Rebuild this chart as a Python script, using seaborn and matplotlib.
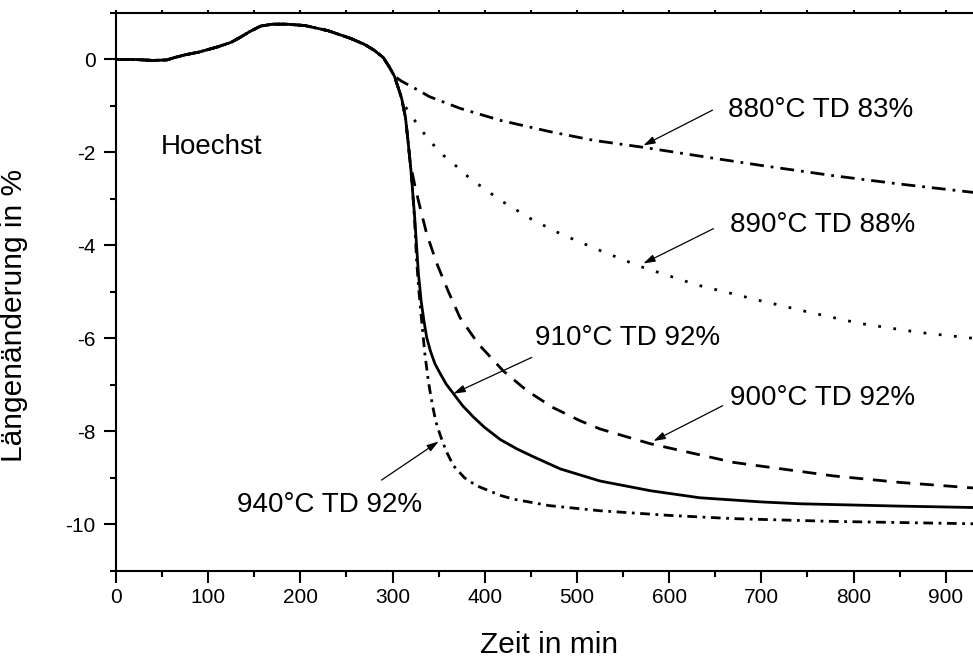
import matplotlib
matplotlib.use("Agg")
import matplotlib.pyplot as plt
from matplotlib.ticker import MultipleLocator
import pandas as pd
import seaborn as sns

# ---- data ----
common_t = [0, 20, 40, 55, 65, 75, 90, 110, 125, 135, 145, 157, 170, 185, 205, 230, 255, 270, 280, 290, 297, 302]
common_v = [0.0, 0.0, -0.02, -0.01, 0.05, 0.10, 0.16, 0.27, 0.37, 0.48, 0.60, 0.72, 0.76, 0.76, 0.73, 0.62, 0.45, 0.32, 0.20, 0.04, -0.18, -0.36]

t_880 = [310, 325, 340, 373, 417, 470, 518, 572, 650, 700, 778, 850, 930, 940]
v_880 = [-0.47, -0.63, -0.80, -1.05, -1.31, -1.55, -1.74, -1.89, -2.13, -2.28, -2.50, -2.68, -2.86, -2.88]

t_890 = [306, 310, 314, 325, 337, 352, 370, 384, 417, 451, 482, 525, 568, 630, 699, 750, 807, 870, 930, 940]
v_890 = [-0.60, -0.82, -1.02, -1.34, -1.67, -2.01, -2.31, -2.56, -3.03, -3.44, -3.75, -4.11, -4.45, -4.85, -5.19, -5.43, -5.68, -5.87, -6.00, -6.02]

t_900 = [306, 310, 314, 317, 319, 324, 330, 337, 348, 360, 373, 393, 420, 446, 474, 503, 525, 580, 670, 778, 850, 930, 940]
v_900 = [-0.60, -0.85, -1.25, -1.80, -2.20, -2.70, -3.20, -3.75, -4.39, -4.97, -5.55, -6.12, -6.70, -7.13, -7.49, -7.77, -7.95, -8.27, -8.67, -8.96, -9.10, -9.22, -9.23]

t_910 = [306, 310, 314, 317, 320, 322, 324, 326, 328, 331, 334, 337, 341, 346, 352, 358, 366, 376, 388, 400, 417, 435, 453, 482, 525, 580, 633, 700, 742, 850, 930, 940]
v_910 = [-0.60, -0.85, -1.25, -1.80, -2.40, -2.90, -3.40, -4.00, -4.60, -5.20, -5.62, -5.98, -6.27, -6.55, -6.77, -6.98, -7.19, -7.45, -7.70, -7.92, -8.18, -8.38, -8.55, -8.81, -9.07, -9.28, -9.43, -9.52, -9.56, -9.61, -9.64, -9.64]

t_940 = [306, 310, 314, 317, 320, 322, 324, 326, 328, 330, 335, 339, 343, 347, 352, 358, 366, 378, 391, 417, 431, 470, 525, 600, 670, 780, 930, 940]
v_940 = [-0.60, -0.85, -1.25, -1.80, -2.40, -2.90, -3.50, -4.30, -4.85, -5.30, -6.33, -6.95, -7.41, -7.80, -8.10, -8.42, -8.74, -9.00, -9.17, -9.38, -9.46, -9.60, -9.71, -9.81, -9.88, -9.94, -9.99, -9.99]

series = ["880", "890", "900", "910", "940"]
labels = ["880°C TD 83%", "890°C TD 88%", "900°C TD 92%", "910°C TD 92%", "940°C TD 92%"]
tails_t = [t_880, t_890, t_900, t_910, t_940]
tails_v = [v_880, v_890, v_900, v_910, v_940]

# annotation geometry: text anchor, arrow tail, arrow head (data coords)
ann_text_xy = [(664, -1.09), (666, -3.57), (666, -7.28), (454, -6.00), (131, -9.58)]
ann_tail_xy = [(647, -1.09), (648, -3.64), (658, -7.45), (451, -6.41), (288, -9.05)]
ann_head_xy = [(572, -1.85), (572, -4.39), (583, -8.21), (366, -7.19), (350, -8.22)]

frames = []
for name, tt, vv in zip(series, tails_t, tails_v):
    frames.append(pd.DataFrame({"Zeit": common_t + tt, "dL": common_v + vv, "Serie": name}))
df = pd.concat(frames, ignore_index=True)

# ---- style ----
sns.set_style("ticks")
plt.rcParams["font.family"] = ["Liberation Sans", "DejaVu Sans"]
plt.rcParams["axes.unicode_minus"] = False
for key in ["text.color", "axes.labelcolor", "xtick.color", "ytick.color", "axes.edgecolor"]:
    plt.rcParams[key] = "black"

fig = plt.figure(figsize=(9.73, 6.61), dpi=100)
ax = fig.add_axes([0.1192, 0.1366, 0.8907, 0.8437])

dash_map = {
    "880": (5, 2.5, 1, 2.5),
    "890": (1, 4.5),
    "900": (5, 3.5),
    "910": "",
    "940": (3.5, 2, 1, 2),
}
sns.lineplot(data=df, x="Zeit", y="dL", style="Serie", dashes=dash_map,
             color="black", linewidth=2, estimator=None, sort=False,
             legend=False, ax=ax)

ax.set_xlim(0, 940)
ax.set_ylim(-11, 1)
ax.xaxis.set_major_locator(MultipleLocator(100))
ax.xaxis.set_minor_locator(MultipleLocator(50))
ax.yaxis.set_major_locator(MultipleLocator(2))
ax.yaxis.set_minor_locator(MultipleLocator(1))

for s in ax.spines.values():
    s.set_linewidth(1.5)
    s.set_color("black")

ax.tick_params(axis="both", which="major", direction="out", length=8.5, width=1.5,
               labelsize=15, colors="black")
ax.tick_params(axis="both", which="minor", direction="out", length=4.5, width=1.5,
               colors="black")
ax.tick_params(axis="x", which="both", top=True, pad=4)
ax.tick_params(axis="y", which="both", right=False, pad=6)
for t in ax.xaxis.get_major_ticks() + ax.xaxis.get_minor_ticks():
    t.tick2line.set_markersize(2.5)

ax.set_xlabel("Zeit in min", fontsize=21.5, color="black")
ax.set_ylabel("Längenänderung in %", fontsize=21.5, color="black")
ax.xaxis.set_label_coords(0.5, -0.108)
ax.yaxis.set_label_coords(-0.102, 0.4585)

ax.text(49, -1.89, "Hoechst", fontsize=20, ha="left", va="center", color="black")

for lab, txy, tail, head in zip(labels, ann_text_xy, ann_tail_xy, ann_head_xy):
    ax.text(txy[0], txy[1], lab, fontsize=20, ha="left", va="center", color="black")
    ax.annotate("", xy=head, xytext=tail,
                arrowprops=dict(arrowstyle="-|>,head_length=0.7,head_width=0.22",
                                color="black", lw=0.9, shrinkA=0, shrinkB=0))

ax.grid(False)
fig.savefig("out.png", dpi=100)
